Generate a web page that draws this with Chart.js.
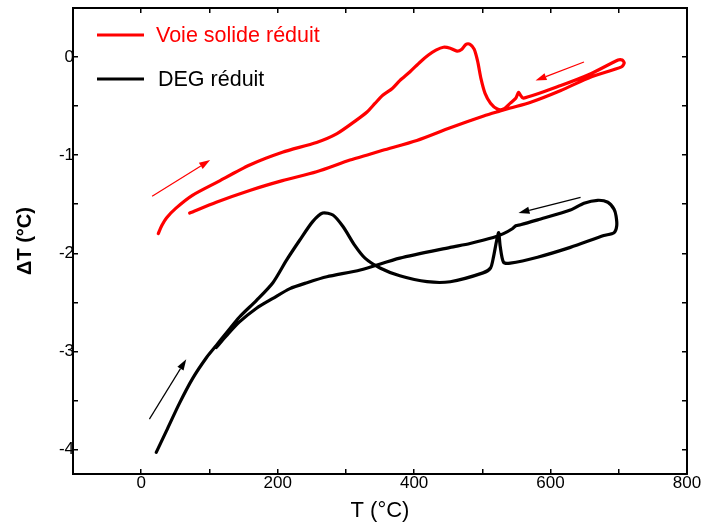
<!DOCTYPE html>
<html><head><meta charset="utf-8">
<script src="https://cdn.jsdelivr.net/npm/chart.js@4.4.1/dist/chart.umd.min.js"></script>
<style>html,body{margin:0;padding:0;background:#fff}#wrap{width:701px;height:524px;position:relative}</style>
</head><body><div id="wrap"><canvas id="c" width="701" height="524"></canvas></div>
<script>
// ---- data ----
const seriesNames = ["Voie solide réduit", "DEG réduit"];
const seriesColors = ["#ff0000", "#000000"];

const redT  = [25,30,37,51,75,110,159,207,257,287,316,331,343,354,368,379,394,409,421,432,443,453,463,470,476,482,488,493,498,504,512,522,531,541,549,553,556,560,615,659,699,705,708,704,660,615,571,541,526,502,453,404,354,335,306,257,207,159,110,71];
const redDT = [-1.80,-1.72,-1.64,-1.54,-1.41,-1.28,-1.10,-0.97,-0.87,-0.78,-0.64,-0.56,-0.47,-0.39,-0.32,-0.24,-0.15,-0.05,0.02,0.07,0.10,0.09,0.06,0.08,0.13,0.13,0.08,-0.04,-0.22,-0.37,-0.47,-0.53,-0.53,-0.47,-0.42,-0.36,-0.39,-0.42,-0.29,-0.17,-0.03,-0.03,-0.06,-0.10,-0.20,-0.34,-0.46,-0.52,-0.55,-0.60,-0.72,-0.85,-0.95,-0.99,-1.05,-1.17,-1.26,-1.36,-1.48,-1.59];

const blackT  = [22,37,56,75,96,110,125,144,169,193,213,232,251,266,281,296,313,328,350,379,419,453,501,512,516,521,524,526,531,541,581,629,678,693,697,696,693,684,669,649,629,581,556,549,544,531,516,482,453,379,321,272,243,218,193,169,144,125,110];
const blackDT = [-4.03,-3.81,-3.53,-3.28,-3.06,-2.94,-2.81,-2.65,-2.48,-2.30,-2.07,-1.87,-1.68,-1.59,-1.61,-1.73,-1.92,-2.05,-2.15,-2.23,-2.29,-2.29,-2.20,-2.15,-2.05,-1.87,-1.79,-1.92,-2.09,-2.10,-2.04,-1.94,-1.82,-1.79,-1.72,-1.62,-1.55,-1.48,-1.46,-1.49,-1.56,-1.66,-1.71,-1.72,-1.75,-1.80,-1.84,-1.90,-1.94,-2.05,-2.17,-2.24,-2.30,-2.36,-2.46,-2.56,-2.70,-2.84,-2.96];

const xTickLabels = [0, 200, 400, 600, 800];
const yTickLabels = [0, -1, -2, -3, -4];

// arrows (data coordinates): from -> to, series index
const arrowFromT  = [16, 649, 644, 12];
const arrowFromDT = [-1.42, -0.05, -1.43, -3.69];
const arrowToT    = [101, 578, 553, 66];
const arrowToDT   = [-1.05, -0.24, -1.59, -3.08];
const arrowSeries = [0, 0, 1, 1];

// ---- chart ----
const FONT = "'Liberation Sans', Arial, Helvetica, sans-serif";
const toPts = (xs, ys) => xs.map((x, i) => ({x: x, y: ys[i]}));

const tickGrid = {display: true, drawOnChartArea: false, drawTicks: true, tickLength: -5, color: '#000', lineWidth: 1.5};
const axisBorder = {display: true, color: '#000', width: 2};

const annotPlugin = {
  id: 'annot',
  afterDatasetsDraw(chart) {
    const ctx = chart.ctx, xs = chart.scales.x, ys = chart.scales.y;
    ctx.save();
    // arrows
    for (let i = 0; i < arrowFromT.length; i++) {
      const x1 = xs.getPixelForValue(arrowFromT[i]), y1 = ys.getPixelForValue(arrowFromDT[i]);
      const x2 = xs.getPixelForValue(arrowToT[i]), y2 = ys.getPixelForValue(arrowToDT[i]);
      const col = seriesColors[arrowSeries[i]];
      const ang = Math.atan2(y2 - y1, x2 - x1);
      const L = 11, W = 3.6;
      const bx = x2 - L * Math.cos(ang), by = y2 - L * Math.sin(ang);
      ctx.strokeStyle = col; ctx.fillStyle = col; ctx.lineWidth = 1.2;
      ctx.beginPath(); ctx.moveTo(x1, y1); ctx.lineTo(bx, by); ctx.stroke();
      ctx.beginPath();
      ctx.moveTo(x2, y2);
      ctx.lineTo(bx + W * Math.sin(ang), by - W * Math.cos(ang));
      ctx.lineTo(bx - W * Math.sin(ang), by + W * Math.cos(ang));
      ctx.closePath(); ctx.fill();
    }
    // legend inside the plot
    const a = chart.chartArea;
    chart.data.datasets.forEach((ds, i) => {
      const yl = a.top + 27 + i * 44;
      ctx.strokeStyle = ds.borderColor; ctx.lineWidth = 3; ctx.lineCap = 'butt';
      ctx.beginPath(); ctx.moveTo(a.left + 24, yl); ctx.lineTo(a.left + 71, yl); ctx.stroke();
      ctx.fillStyle = ds.borderColor;
      ctx.font = '21.5px ' + FONT;
      ctx.textBaseline = 'alphabetic'; ctx.textAlign = 'left';
      ctx.fillText(ds.label, a.left + 83 + i * 2, yl + 7);
    });
    ctx.restore();
  }
};

new Chart(document.getElementById('c'), {
  type: 'scatter',
  data: {
    datasets: [
      {label: seriesNames[0], data: toPts(redT, redDT), showLine: true, borderColor: seriesColors[0], backgroundColor: seriesColors[0], borderWidth: 3.2, pointRadius: 0, tension: 0.25, borderCapStyle: 'round', borderJoinStyle: 'round'},
      {label: seriesNames[1], data: toPts(blackT, blackDT), showLine: true, borderColor: seriesColors[1], backgroundColor: seriesColors[1], borderWidth: 3.2, pointRadius: 0, tension: 0.25, borderCapStyle: 'round', borderJoinStyle: 'round'}
    ]
  },
  options: {
    responsive: false, animation: false, devicePixelRatio: 1,
    layout: {padding: {left: 0, right: 14, top: 8, bottom: 0}},
    plugins: {legend: {display: false}, tooltip: {enabled: false}},
    scales: {
      x: {
        type: 'linear', position: 'bottom', min: -100, max: 800,
        border: axisBorder, grid: tickGrid,
        ticks: {stepSize: 100, autoSkip: false, maxRotation: 0, padding: 4, color: '#000',
                font: {family: FONT, size: 17},
                callback: v => xTickLabels.includes(v) ? String(v) : ''},
        title: {display: true, text: 'T (°C)', color: '#000', font: {family: FONT, size: 22}, padding: {top: 0, bottom: 0}},
        afterFit: s => { s.height = 50; s.paddingLeft = 0; s.paddingRight = 0; }
      },
      y: {
        type: 'linear', position: 'left', min: -4.25, max: 0.5,
        border: axisBorder, grid: tickGrid,
        ticks: {stepSize: 0.5, autoSkip: false, padding: 4, color: '#000',
                font: {family: FONT, size: 17},
                callback: v => { const r = Math.round(v); return (Math.abs(v - r) < 1e-6 && yTickLabels.includes(r)) ? String(r) : ''; }},
        title: {display: true, text: 'ΔT (°C)', color: '#000', font: {family: FONT, size: 20, weight: 'bold'}, padding: {top: 13, bottom: 0}},
        afterFit: s => { s.width = 73; s.paddingTop = 0; s.paddingBottom = 0; }
      },
      x2: {
        type: 'linear', position: 'top', min: -100, max: 800,
        border: axisBorder, grid: tickGrid,
        ticks: {stepSize: 100, autoSkip: false, maxRotation: 0, callback: () => ''},
        afterFit: s => { s.height = 0; s.paddingLeft = 0; s.paddingRight = 0; }
      },
      y2: {
        type: 'linear', position: 'right', min: -4.25, max: 0.5,
        border: axisBorder, grid: tickGrid,
        ticks: {stepSize: 0.5, autoSkip: false, callback: () => ''},
        afterFit: s => { s.width = 0; s.paddingTop = 0; s.paddingBottom = 0; }
      }
    }
  },
  plugins: [annotPlugin]
});
</script>
</body></html>
